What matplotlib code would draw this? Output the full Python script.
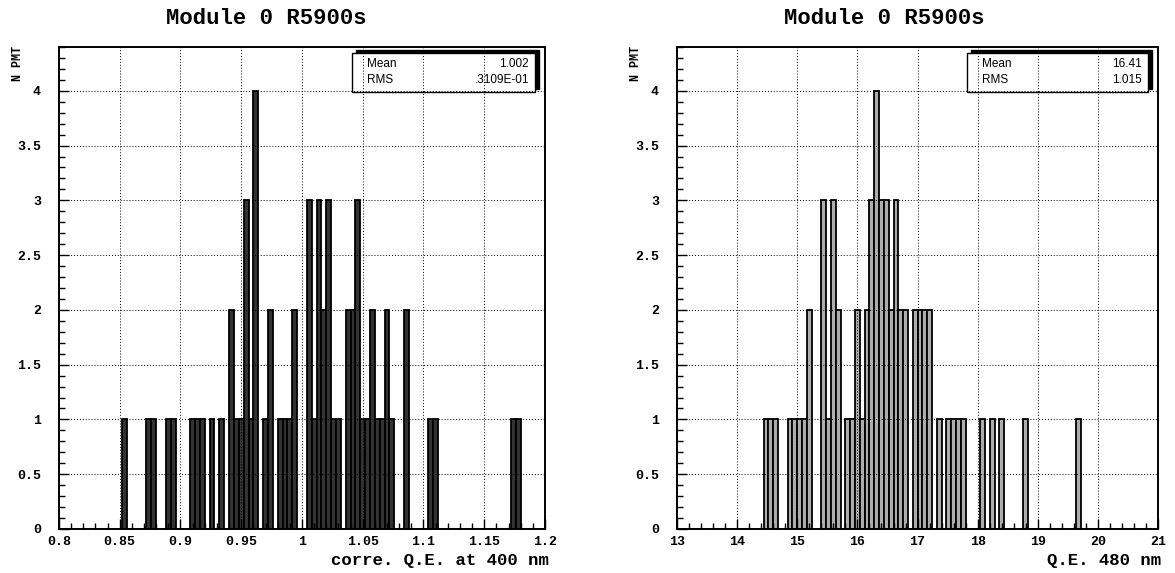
import matplotlib
matplotlib.use("Agg")
import matplotlib.pyplot as plt
from matplotlib.patches import Rectangle
from matplotlib.ticker import MultipleLocator

# Histogram contents (bin centres / entries)
left_centers = [0.854, 0.874, 0.878, 0.890, 0.894, 0.910, 0.914, 0.918, 0.926, 0.934,
                0.942, 0.946, 0.950, 0.954, 0.958, 0.962,
                0.970, 0.974, 0.982, 0.986, 0.990, 0.994,
                1.006, 1.010, 1.014, 1.018, 1.022,
                1.026, 1.030, 1.038, 1.042, 1.046,
                1.050, 1.054, 1.058, 1.062, 1.066, 1.070, 1.074,
                1.086, 1.106, 1.110, 1.174, 1.178]
left_counts = [1, 1, 1, 1, 1, 1, 1, 1, 1, 1,
               2, 1, 1, 3, 1, 4,
               1, 2, 1, 1, 1, 2,
               3, 1, 3, 2, 3,
               1, 1, 2, 2, 3,
               1, 1, 2, 1, 1, 2, 1,
               2, 1, 1, 1, 1]
left_bin = 0.004

right_centers = [14.48, 14.56, 14.64,
                 14.88, 14.96, 15.04, 15.12, 15.20,
                 15.44, 15.52, 15.60, 15.68,
                 15.84, 15.92, 16.00, 16.08, 16.16,
                 16.24, 16.32, 16.40, 16.48,
                 16.56, 16.64, 16.72, 16.80,
                 16.96, 17.04, 17.12, 17.20,
                 17.36,
                 17.52, 17.60, 17.68, 17.76,
                 18.08, 18.24, 18.40, 18.80, 19.68]
right_counts = [1, 1, 1,
                1, 1, 1, 1, 2,
                3, 1, 3, 2,
                1, 1, 2, 1, 2,
                3, 4, 3, 3,
                2, 3, 2, 2,
                2, 2, 2, 2,
                1,
                1, 1, 1, 1,
                1, 1, 1, 1, 1]
right_bin = 0.08

left_xticks = [0.8, 0.85, 0.9, 0.95, 1.0, 1.05, 1.1, 1.15, 1.2]
left_xlabels = ["0.8", "0.85", "0.9", "0.95", "1", "1.05", "1.1", "1.15", "1.2"]
right_xticks = [13, 14, 15, 16, 17, 18, 19, 20, 21]
right_xlabels = ["13", "14", "15", "16", "17", "18", "19", "20", "21"]
yticks = [0, 0.5, 1, 1.5, 2, 2.5, 3, 3.5, 4]
ylabels = ["0", "0.5", "1", "1.5", "2", "2.5", "3", "3.5", "4"]

title = "Module 0 R5900s"
left_stats = [("Mean", "1.002"), ("RMS", ".3109E-01")]
right_stats = [("Mean", "16.41"), ("RMS", "1.015")]

MONO = "Liberation Mono"


def draw_panel(fig, rect, centers, counts, width, xlim, xticks, xlabels,
               xminor, stats, xlabel, fill, title_x):
    ax = fig.add_axes(rect)
    ax.bar(centers, counts, width=width, color=fill, edgecolor="black",
           linewidth=1.3, zorder=1.5)
    ax.set_xlim(*xlim)
    ax.set_ylim(0, 4.4)
    ax.set_xticks(xticks)
    ax.set_xticklabels(xlabels)
    ax.set_yticks(yticks)
    ax.set_yticklabels(ylabels)
    ax.xaxis.set_minor_locator(MultipleLocator(xminor))
    ax.yaxis.set_minor_locator(MultipleLocator(0.1))
    ax.tick_params(which="both", direction="in", top=False, right=False,
                   width=1, colors="black")
    ax.tick_params(which="major", length=7)
    ax.tick_params(which="minor", length=4)
    ax.tick_params(axis="x", which="major", pad=5)
    ax.tick_params(axis="y", which="major", pad=13)
    for lab in ax.get_xticklabels() + ax.get_yticklabels():
        lab.set_fontfamily(MONO)
        lab.set_fontweight("bold")
        lab.set_fontsize(9.5)
    for sp in ax.spines.values():
        sp.set_linewidth(1.4)
    ax.set_axisbelow(False)
    ax.grid(True, which="major", linestyle=(0, (1, 2)), color="black",
            linewidth=0.7)

    # statistics box with PAW-like shadow
    bx, by, bw, bh = 0.603, 0.907, 0.376, 0.081
    ax.add_patch(Rectangle((bx + 0.009, by + 0.006), bw, bh, transform=ax.transAxes,
                           facecolor="black", edgecolor="black", zorder=2,
                           clip_on=False))
    ax.add_patch(Rectangle((bx, by), bw, bh, transform=ax.transAxes,
                           facecolor="white", edgecolor="black", linewidth=1,
                           zorder=2.1, clip_on=False))
    for i, (name, val) in enumerate(stats):
        yy = by + bh * (0.72 - 0.42 * i)
        ax.text(bx + 0.03, yy, name, transform=ax.transAxes, fontsize=8.5,
                ha="left", va="center", family="Liberation Sans", zorder=3)
        ax.text(bx + bw - 0.012, yy, val, transform=ax.transAxes, fontsize=8.5,
                ha="right", va="center", family="Liberation Sans", zorder=3)

    fig.text(rect[0] + rect[2] + 0.003, 0.008, xlabel, ha="right", va="bottom",
             family=MONO, fontweight="bold", fontsize=12.5)
    fig.text(title_x, 0.968, title, ha="center", va="center",
             family=MONO, fontweight="bold", fontsize=16)
    fig.text(rect[0] - 0.035, 0.92, "N PMT", rotation=90, ha="center", va="top",
             family=MONO, fontweight="bold", fontsize=8.5)
    return ax


fig = plt.figure(figsize=(11.75, 5.73), dpi=100)
fig.patch.set_facecolor("white")

draw_panel(fig, [0.0502, 0.0768, 0.4136, 0.8412], left_centers, left_counts,
           left_bin, (0.8, 1.2), left_xticks, left_xlabels, 0.01, left_stats,
           "corre. Q.E. at 400 nm", "0.2", 0.227)
draw_panel(fig, [0.5762, 0.0768, 0.4094, 0.8412], right_centers, right_counts,
           right_bin, (13, 21), right_xticks, right_xlabels, 0.2, right_stats,
           "Q.E. 480 nm", "0.68", 0.753)

fig.savefig("out.png", dpi=100)
